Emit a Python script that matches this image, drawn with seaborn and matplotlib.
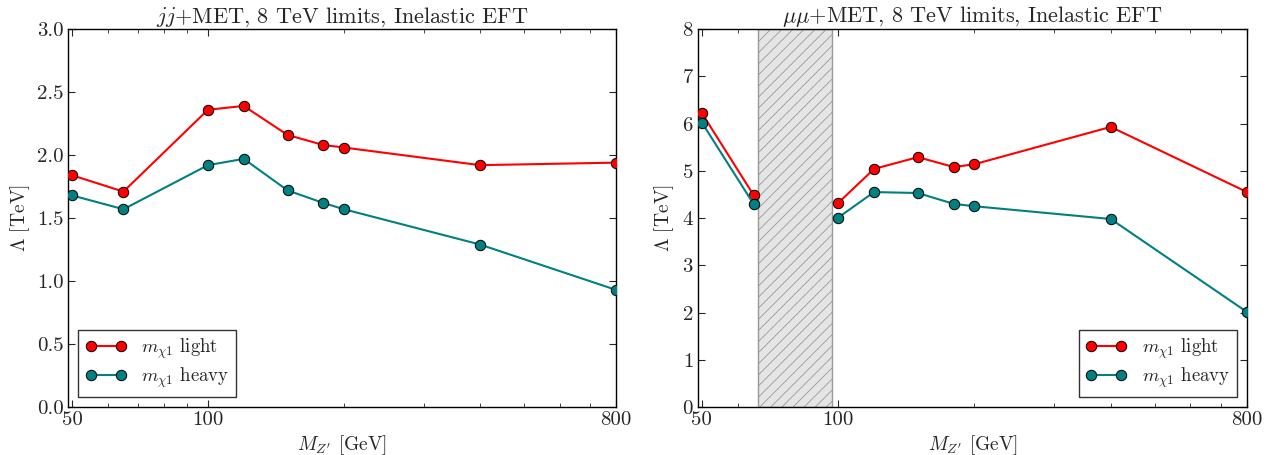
import matplotlib as mpl
mpl.use("Agg")
import matplotlib.pyplot as plt
import matplotlib.ticker as mticker
import numpy as np
import pandas as pd
import seaborn as sns

# Z' masses [GeV]
mzp = [50, 65, 100, 120, 150, 180, 200, 400, 800]

# jj + MET limits [TeV]
jj_light = [1.84, 1.71, 2.36, 2.39, 2.16, 2.08, 2.06, 1.92, 1.94]
jj_heavy = [1.68, 1.57, 1.92, 1.97, 1.72, 1.62, 1.57, 1.29, 0.93]

# mumu + MET limits [TeV]
mm_light = [6.22, 4.49, 4.32, 5.04, 5.29, 5.08, 5.14, 5.93, 4.55]
mm_heavy = [6.02, 4.30, 4.01, 4.55, 4.53, 4.30, 4.25, 3.98, 2.01]

# excluded Z-peak window in the mumu channel (lines broken across it)
zwin = [66.5, 97]
jj_seg = [0, 0, 0, 0, 0, 0, 0, 0, 0]
mm_seg = [0, 0, 1, 1, 1, 1, 1, 1, 1]

sns.set_style("ticks")
plt.rcParams['font.family'] = ['serif']
plt.rcParams['font.serif'] = ['cmr10', 'DejaVu Serif']
plt.rcParams['mathtext.fontset'] = 'cm'
plt.rcParams['axes.unicode_minus'] = False
plt.rcParams['axes.formatter.use_mathtext'] = True
plt.rcParams['xtick.direction'] = 'in'
plt.rcParams['ytick.direction'] = 'in'
plt.rcParams['xtick.top'] = True
plt.rcParams['ytick.right'] = True
plt.rcParams['axes.edgecolor'] = 'black'
plt.rcParams['axes.linewidth'] = 1.0
plt.rcParams['hatch.linewidth'] = 0.6

fig = plt.figure(figsize=(12.69, 4.55), dpi=100)
ax1 = fig.add_axes([0.0536, 0.1055, 0.4318, 0.8305])
ax2 = fig.add_axes([0.5500, 0.1055, 0.4327, 0.8305])


def draw(ax, light, heavy, seg, title, ymax, yticks, legloc):
    ax.set_xscale('log')
    df = pd.DataFrame({'m': mzp, 'light': light, 'heavy': heavy, 'seg': seg})
    kw = dict(marker='o', markersize=7.5, markeredgecolor='black',
              markeredgewidth=0.7, linewidth=1.5, units=df['seg'],
              estimator=None, sort=False, zorder=3)
    sns.lineplot(data=df, x='m', y='light', ax=ax, color='#ff0000',
                 label=r'$m_{\chi 1}$ light', **kw)
    sns.lineplot(data=df, x='m', y='heavy', ax=ax, color='#008080',
                 label=r'$m_{\chi 1}$ heavy', **kw)
    ax.set_xlim(49, 800)
    ax.set_ylim(0, ymax)
    ax.set_yticks(yticks)
    ax.xaxis.set_major_locator(mticker.FixedLocator([50, 100, 800]))
    ax.xaxis.set_minor_locator(mticker.FixedLocator([60, 70, 80, 90, 200, 300, 400, 500, 600, 700]))
    ax.xaxis.set_major_formatter(mticker.FixedFormatter(['50', '100', '800']))
    ax.xaxis.set_minor_formatter(mticker.NullFormatter())
    ax.tick_params(which='major', length=5, width=0.8, labelsize=15, pad=3)
    ax.tick_params(which='minor', length=3, width=0.6)
    ax.set_xlabel(r"$M_{Z'}$ [GeV]", fontsize=14, labelpad=3)
    ax.set_ylabel(r"$\Lambda$ [TeV]", fontsize=14)
    ax.set_title(title, fontsize=16, pad=4)
    for s in ax.spines.values():
        s.set_visible(True)
    # one legend entry per series
    handles, labels = ax.get_legend_handles_labels()
    uniq = dict(zip(labels, handles))
    leg = ax.legend(list(uniq.values()), list(uniq.keys()), loc=legloc,
                    numpoints=2, fontsize=13.5, fancybox=False, frameon=True,
                    borderpad=0.35, handlelength=2.2, borderaxespad=0.55,
                    labelspacing=0.25)
    leg.get_frame().set_edgecolor('black')
    leg.get_frame().set_linewidth(1.0)


draw(ax1, jj_light, jj_heavy, jj_seg, r'$jj$+MET, 8 TeV limits, Inelastic EFT',
     3.0, np.arange(0, 3.01, 0.5), 'lower left')
ax1.yaxis.set_major_formatter(mticker.FormatStrFormatter('%.1f'))

ax2.axvspan(zwin[0], zwin[1], facecolor='#e5e5e5', edgecolor='#999999',
            hatch='///', linewidth=1.0, zorder=1)
draw(ax2, mm_light, mm_heavy, mm_seg, r'$\mu\mu$+MET, 8 TeV limits, Inelastic EFT',
     8, np.arange(0, 9, 1), 'lower right')

fig.savefig('out.png', dpi=100)
